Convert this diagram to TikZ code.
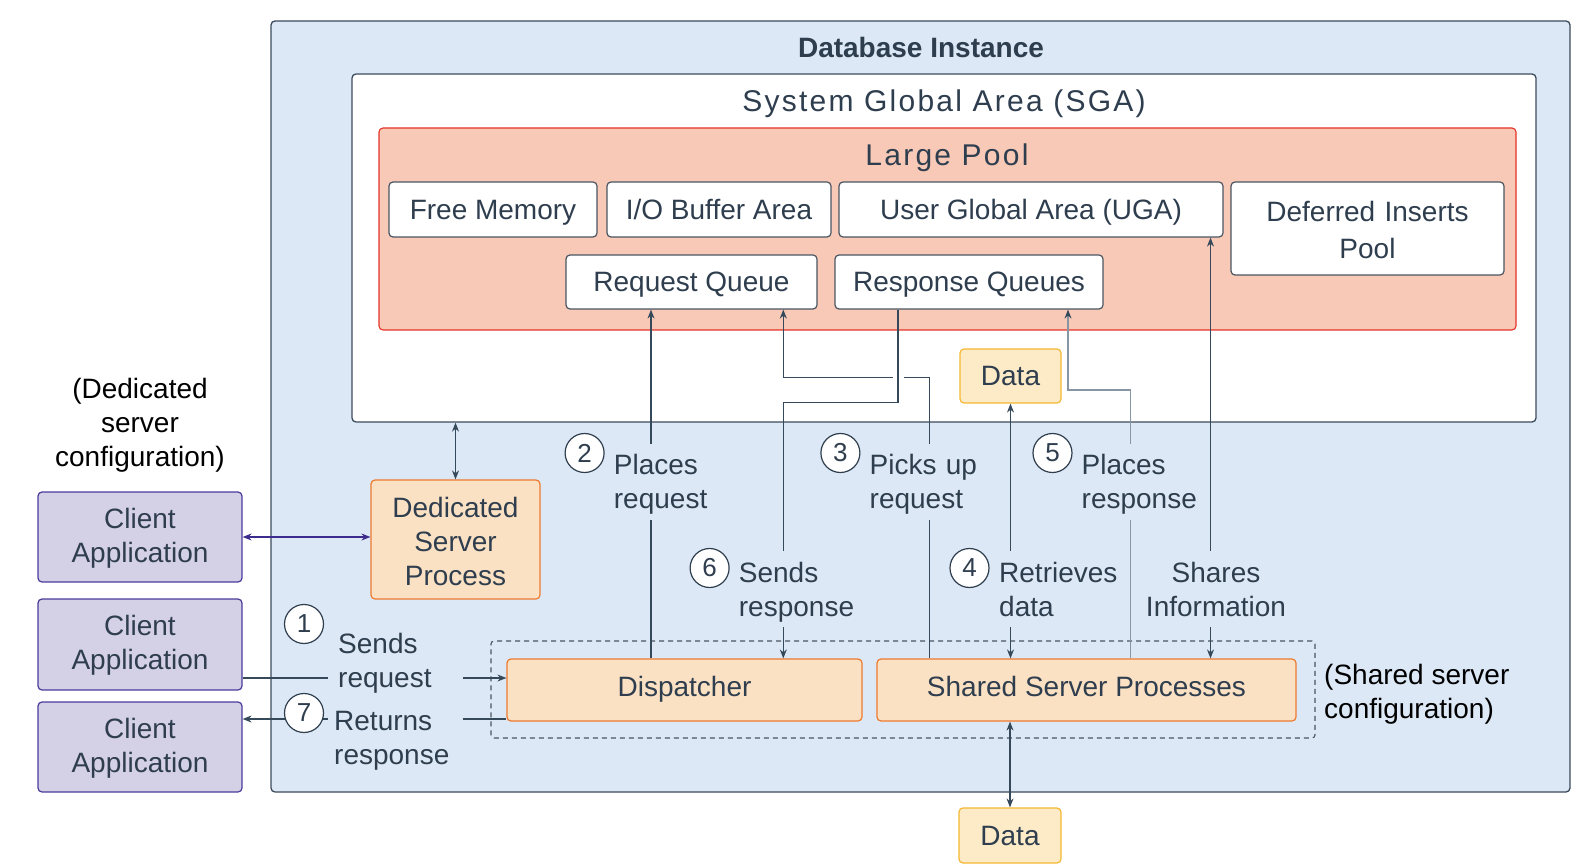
\documentclass[tikz,border=0pt]{standalone}
\usepackage{fontspec}
\setmainfont{Liberation Sans}
\usetikzlibrary{arrows.meta}
\definecolor{dbfill}{HTML}{DCE8F5}
\definecolor{dbline}{HTML}{3C4B5C}
\definecolor{txt}{HTML}{2F3E4E}
\definecolor{lpfill}{HTML}{F7C9B6}
\definecolor{lpline}{HTML}{E5332A}
\definecolor{boxline}{HTML}{4A5561}
\definecolor{datafill}{HTML}{FDEBC8}
\definecolor{dataline}{HTML}{F5B731}
\definecolor{procfill}{HTML}{FBE1C4}
\definecolor{procline}{HTML}{EE7A30}
\definecolor{clfill}{HTML}{D4D0E6}
\definecolor{clline}{HTML}{4B3C9C}
\definecolor{arrline}{HTML}{36495A}
\definecolor{lightline}{HTML}{8896A4}
\definecolor{purp}{HTML}{3D2C8D}
\newcommand\lbl{\fontsize{28}{34}\selectfont}
\newcommand\ttl{\fontsize{30}{36}\selectfont\addfontfeatures{LetterSpace=7.5}}
\newcommand\mystrut{\rule[-7pt]{0pt}{34pt}}
\begin{document}
\begin{tikzpicture}[x=1pt,y=-1pt,
  container/.style={draw=dbline, line width=1.3pt, rounded corners=4pt, inner sep=0pt},
  bx/.style={draw=boxline, fill=white, line width=1.2pt, rounded corners=4pt, inner sep=0pt,
     text=txt, font=\lbl, align=center, execute at begin node={\mystrut}, execute at end node={\mystrut}},
  databox/.style={bx, draw=dataline, fill=datafill},
  procbox/.style={bx, draw=procline, fill=procfill},
  clbox/.style={bx, draw=clline, fill=clfill, text width=200pt, execute at begin node={\rule[-7pt]{0pt}{30pt}},
     execute at end node={\rule[-11pt]{0pt}{38pt}}},
  textup/.style={execute at end node={\mystrut\rule[-15pt]{0pt}{0pt}}},
  con/.style={draw=arrline, line width=1.1pt},
  tip/.style={-{Stealth[length=9pt,width=7pt,color=arrline]}},
  tips/.style={{Stealth[length=9pt,width=7pt]}-{Stealth[length=9pt,width=7pt]}},
  lab/.style={fill=dbfill, text=txt, font=\lbl, align=left, inner xsep=2pt, inner ysep=4pt,
     anchor=west, execute at begin node={\mystrut}, execute at end node={\mystrut}},
  note/.style={text=black, font=\lbl, inner sep=0pt, execute at begin node={\mystrut}, execute at end node={\mystrut}},
  circ/.style={circle, draw=txt, fill=white, line width=1.2pt, minimum size=39pt, inner sep=0pt,
     font=\fontsize{26}{30}\selectfont, text=txt}
]
\useasboundingbox (0,0) rectangle (1583,866);

% containers
\node[container, fill=dbfill, minimum width=1299pt, minimum height=771pt] (db) at (920.5,406.5) {};
\node[text=txt, font=\fontsize{28}{34}\selectfont\bfseries] (dbt) at (921,47) {Database Instance};
\node[container, fill=white, minimum width=1184pt, minimum height=348pt] (sga) at (944,248) {};
\node[text=txt, font=\ttl] (sgat) at (944,104) {System Global Area (SGA)};
\node[container, draw=lpline, line width=1.1pt, fill=lpfill, minimum width=1137pt, minimum height=202pt] (lp) at (947.5,229) {};
\node[text=txt, font=\ttl] (lpt) at (947,158) {Large Pool};

% large pool contents
\node[bx, minimum width=208pt, minimum height=55pt] (free) at (493,209.5) {Free Memory};
\node[bx, minimum width=224pt, minimum height=55pt] (iob) at (719,209.5) {I/O Buffer Area};
\node[bx, minimum width=384pt, minimum height=55pt] (uga) at (1031,209.5) {User Global Area (UGA)};
\node[bx, minimum width=273pt, minimum height=93pt, text width=268pt, font=\fontsize{28}{36.4}\selectfont,
      execute at begin node={\rule[-7pt]{0pt}{37.4pt}}] (dip) at (1367.5,228.5) {Deferred Inserts\\Pool};
\node[bx, minimum width=251pt, minimum height=54pt] (reqq) at (691.5,282) {Request Queue};
\node[bx, minimum width=268pt, minimum height=54pt] (respq) at (969,282) {Response Queues};

% data
\node[databox, minimum width=101pt, minimum height=54pt] (data1) at (1010.5,376) {Data};
\node[databox, minimum width=102pt, minimum height=55pt] (data2) at (1010,835.5) {Data};

% shared server config frame
\node[draw=boxline, dashed, dash pattern=on 5pt off 4pt, line width=1.1pt, rounded corners=3pt,
      minimum width=824pt, minimum height=97pt, inner sep=0pt] (sframe) at (903,689.5) {};

% processes
\node[procbox, minimum width=169pt, minimum height=119pt, text width=165pt,
      execute at begin node={\rule[-7pt]{0pt}{37pt}}] (ded) at (455.5,539.5) {Dedicated\\Server\\Process};
\node[procbox, textup, minimum width=355pt, minimum height=62pt] (disp) at (684.5,690) {Dispatcher};
\node[procbox, textup, minimum width=419pt, minimum height=62pt] (shared) at (1086.5,690) {Shared Server Processes};

% clients
\node[clbox, minimum width=204pt, minimum height=90pt] (c1) at (140,537) {Client\\Application};
\node[clbox, minimum width=204pt, minimum height=91pt] (c2) at (140,644.5) {Client\\Application};
\node[clbox, minimum width=204pt, minimum height=90pt] (c3) at (140,747) {Client\\Application};

% notes
\node[note, align=center] (dednote) at (140,426) {(Dedicated\\server\\configuration)};
\node[note, align=left, anchor=west] (shnote) at (1324,695) {(Shared server\\configuration)};

% coordinates for connector positions
\coordinate (xPR) at (651,0);
\coordinate (xA2) at (783.3,0);
\coordinate (xRL) at (898,0);
\coordinate (xPU) at (929.3,0);
\coordinate (xPA) at (1068,0);
\coordinate (xPV) at (1130.6,0);
\coordinate (xSH) at (1210.5,0);
\coordinate (ySR) at (0,402.3);
\coordinate (yPS) at (0,390);
\coordinate (yA) at (0,678);
\coordinate (yB) at (0,719);
\coordinate (yD) at (0,537);
\coordinate (hopR) at (903.8,377.3);
\coordinate (hopL) at (892.7,377.3);

% connectors
\draw[con, tips] (sga.south -| ded.north) -- (ded.north);
\draw[con, tips, draw=purp] (c1.east |- yD) -- (ded.west |- yD);
\draw[con, tip] (c2.east |- yA) -- (disp.west |- yA);
\draw[con, tip] (disp.west |- yB) -- (c3.east |- yB);
\draw[con, tip] (disp.north -| xPR) -- (reqq.south -| xPR);
\draw[con] (shared.north -| xPU) |- (hopR);
\draw[con, tip] (hopL) -| (reqq.south -| xA2);
\draw[con, tip] (respq.south -| xRL) |- (ySR -| xA2) -- (disp.north -| xA2);
\draw[con, draw=lightline, tip] (shared.north -| xPV) |- (yPS -| xPA) -- (respq.south -| xPA);
\draw[con, tips] (data1.south) -- (shared.north -| data1.south);
\draw[con, tips] (uga.south -| xSH) -- (shared.north -| xSH);
\draw[con, tips] (shared.south -| data2.north) -- (data2.north);

% labels
\node[lab, text width=96pt] (l2) at (611.7,482) {Places\\request};
\node[lab, text width=112pt] (l3) at (867.5,482) {Picks up\\request};
\node[lab, text width=118pt] (l5) at (1079.5,482) {Places\\response};
\node[lab, text width=118pt] (l6) at (736.7,589) {Sends\\response};
\node[lab, text width=120pt] (l4) at (997,589) {Retrieves\\data};
\node[lab, anchor=center, align=center, text width=142pt] (lsh) at (1216,589) {Shares\\Information};
\node[lab, inner xsep=10pt, text width=115pt] (l1) at (328,660.5) {Sends\\request};
\node[lab, inner xsep=6pt, text width=123pt] (l7) at (328,737) {Returns\\response};

% step numbers
\node[circ] (n1) at (304,624) {1};
\node[circ] (n7) at (304,713) {7};
\node[circ] (n2) at (584.6,453) {2};
\node[circ] (n3) at (840.4,453) {3};
\node[circ] (n5) at (1052.5,453) {5};
\node[circ] (n6) at (709.6,568) {6};
\node[circ] (n4) at (969.5,568) {4};
\end{tikzpicture}
\end{document}
